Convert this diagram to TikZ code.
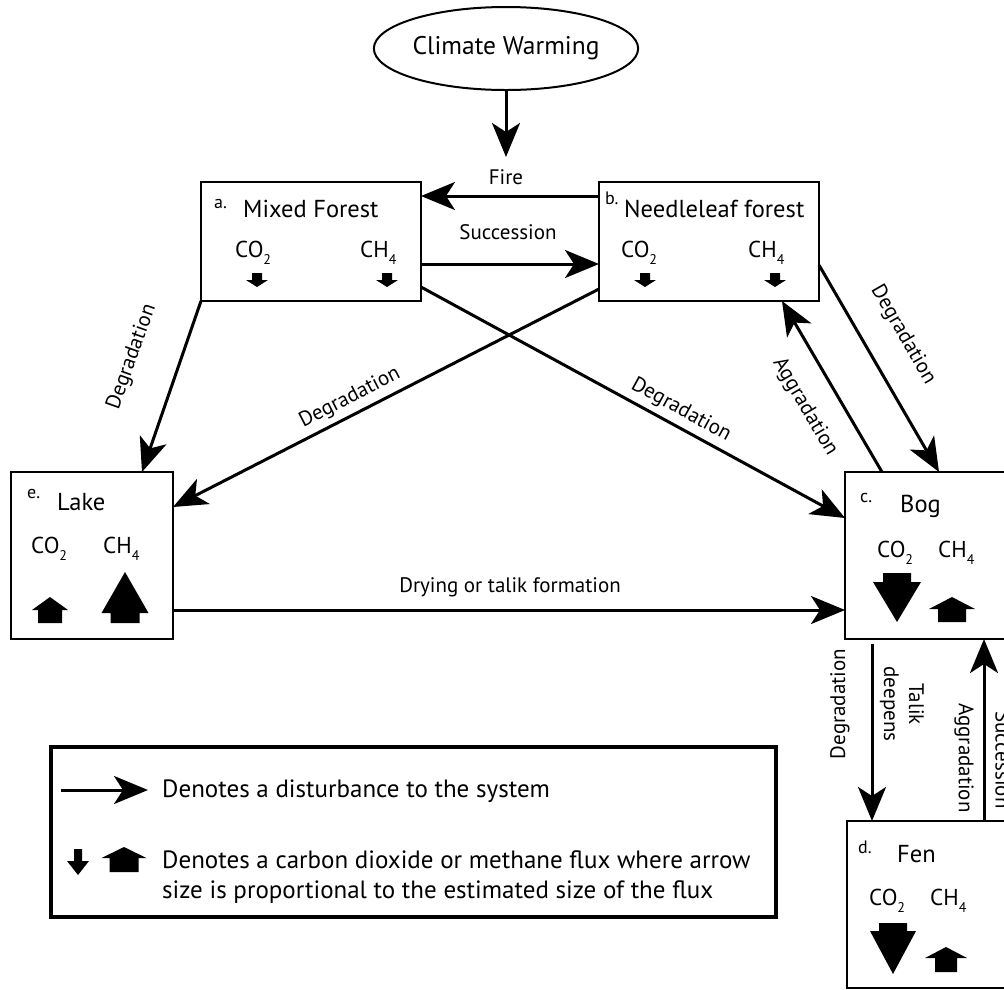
\documentclass[tikz,border=0pt]{standalone}
\usepackage{fontspec}
\setmainfont{PT Sans}
\usetikzlibrary{shapes.geometric,arrows.meta,calc}
\newcommand\subs[1]{\raisebox{-7pt}{\fontsize{14}{14}\selectfont #1}}
\newcommand\fluxdn[6]{\fill[black] ({#1-#3},#2) -- ({#1+#3},#2) -- ({#1+#3},{#2+#4}) -- ({#1+#5},{#2+#4}) -- (#1,{#2+#4+#6}) -- ({#1-#5},{#2+#4}) -- ({#1-#3},{#2+#4}) -- cycle;}
\newcommand\fluxup[6]{\fill[black] ({#1-#3},#2) -- ({#1+#3},#2) -- ({#1+#3},{#2-#4}) -- ({#1+#5},{#2-#4}) -- (#1,{#2-#4-#6}) -- ({#1-#5},{#2-#4}) -- ({#1-#3},{#2-#4}) -- cycle;}
\begin{document}
\begin{tikzpicture}[x=1pt,y=-1pt,
 box/.style={draw, line width=2pt, anchor=north west, inner sep=0pt, outer sep=0pt},
 conn/.style={line width=3pt, -{Stealth[length=34pt,width=28pt,inset=9pt]}},
 lbl/.style={font=\fontsize{21}{24}\selectfont, inner sep=1pt},
 ttl/.style={font=\fontsize{24.5}{28}\selectfont, anchor=base west, inner sep=0pt},
 gas/.style={font=\fontsize{23}{26}\selectfont, anchor=base west, inner sep=0pt},
 tag/.style={font=\fontsize{18}{20}\selectfont, anchor=base west, inner sep=0pt},
 leg/.style={font=\fontsize{25}{28}\selectfont, anchor=base west, inner sep=0pt}
]
\useasboundingbox (0,0) rectangle (1004,989);

% ellipse
\node[draw, ellipse, line width=2pt, minimum width=220pt, minimum height=83pt, inner sep=0pt, font=\fontsize{25.5}{28}\selectfont] (cw) at (506,48.5) {Climate Warming};

% boxes
\node[box, minimum width=220pt, minimum height=119pt] (a) at (201,182) {};
\node[box, minimum width=220pt, minimum height=119pt] (b) at (599,182) {};
\node[box, minimum width=167pt, minimum height=167pt] (c) at (845,472) {};
\node[box, minimum width=165pt, minimum height=167pt] (d) at (847,821) {};
\node[box, minimum width=162pt, minimum height=167pt] (e) at (11,472) {};

% box a contents
\node[tag] (atag) at (214,208) {a.};
\node[ttl] (atitle) at (243,217) {Mixed Forest};
\node[gas] (aco) at (235,257) {CO\subs{2}};
\node[gas] (ach) at (360,257) {CH\subs{4}};
\fluxdn{257}{273}{5}{7}{11}{7}
\fluxdn{387}{273}{5}{7}{11}{7}

% box b contents
\node[tag] (btag) at (605,204) {b.};
\node[ttl] (btitle) at (624,217) {Needleleaf forest};
\node[gas] (bco) at (621,257) {CO\subs{2}};
\node[gas] (bch) at (748,257) {CH\subs{4}};
\fluxdn{645}{273}{5}{7}{11}{7}
\fluxdn{775}{273}{5}{7}{11}{7}

% box c contents
\node[tag] (ctag) at (860,502) {c.};
\node[ttl] (ctitle) at (900,512) {Bog};
\node[gas] (cco) at (877,557) {CO\subs{2}};
\node[gas] (cch) at (938,557) {CH\subs{4}};
\fluxdn{897}{573}{14}{9}{24}{40}
\fluxup{952}{622}{14}{13}{23}{12}

% box d contents
\node[tag] (dtag) at (858,853) {d.};
\node[ttl] (dtitle) at (897,862) {Fen};
\node[gas] (dco) at (869,905) {CO\subs{2}};
\node[gas] (dch) at (930,905) {CH\subs{4}};
\fluxdn{893}{923}{14}{8}{23}{43}
\fluxup{946}{972}{11}{14}{21}{11}

% box e contents
\node[tag] (etag) at (27,498) {e.};
\node[ttl] (etitle) at (57,510) {Lake};
\node[gas] (eco) at (31,553) {CO\subs{2}};
\node[gas] (ech) at (103,553) {CH\subs{4}};
\fluxup{50}{623}{12}{13}{18}{13}
\fluxup{125}{623}{14.5}{10}{23.5}{41}

% connectors
\coordinate (fireTip) at (506,157);
\draw[conn] (cw.south) -- (fireTip);
\node[lbl] (fire) at (506,177) {Fire};
\draw[conn] ([yshift=-14pt]b.north west) -- ([yshift=-14pt]a.north east);
\draw[conn] ([yshift=-82pt]a.north east) -- ([yshift=-82pt]b.north west);
\node[lbl] (succ) at (508,232) {Succession};

\draw[conn] (a.south west) -- ([xshift=131pt]e.north west);
\node[lbl, rotate=70.4] (l1) at (132,357) {Degradation};
\draw[conn] ([yshift=12pt]b.south west) -- ([yshift=-35pt]e.north east);
\node[lbl, rotate=27.2] (l2) at (350,398) {Degradation};
\draw[conn] ([yshift=14pt]a.south east) -- ([yshift=-46pt]c.north west);
\node[lbl, rotate=-28.7] (l3) at (681,410) {Degradation};
\draw[conn] ([yshift=-83pt]b.north east) -- ([xshift=94pt]c.north west);
\node[lbl, rotate=-60] (l4) at (903,335) {Degradation};
\draw[conn] ([xshift=37pt]c.north west) -- ([xshift=183pt]b.south west);
\node[lbl, rotate=-59.5] (l5) at (805,407) {Aggradation};
\draw[conn] ([yshift=29pt]e.south east) -- ([yshift=-138pt]c.north west);
\node[lbl] (l6) at (510,587) {Drying or talik formation};
\draw[conn, shorten <=5pt] ([xshift=27pt]c.south west) -- ([xshift=25pt]d.north west);
\node[lbl, rotate=90] (l7) at (840,704) {Degradation};
\node[lbl, rotate=-90, align=center, font=\fontsize{21}{25}\selectfont] (l8) at (902,704) {Talik\\deepens};
\draw[conn] ([xshift=137pt]d.north west) -- ([xshift=139pt]c.south west);
\node[lbl, rotate=-90] (l9) at (964,758) {Aggradation};
\node[lbl, rotate=-90] (l10) at (1003,760) {Succession};

% legend
\node[draw, line width=3.5pt, anchor=north west, minimum width=725pt, minimum height=170pt, inner sep=0pt, outer sep=0pt] (legbox) at (51,747) {};
\coordinate (legA) at (61,790);
\coordinate (legB) at (148,790);
\draw[conn] (legA) -- (legB);
\node[leg] (leg1) at (162,797) {Denotes a disturbance to the system};
\node[leg] (leg2) at (162,868) {Denotes a carbon dioxide or methane flux where arrow};
\node[leg] (leg3) at (162,898) {size is proportional to the estimated size of the flux};
\fluxdn{78}{849}{4}{12}{11}{14}
\fluxup{124}{872}{14.5}{14}{22.5}{11}
\end{tikzpicture}
\end{document}
